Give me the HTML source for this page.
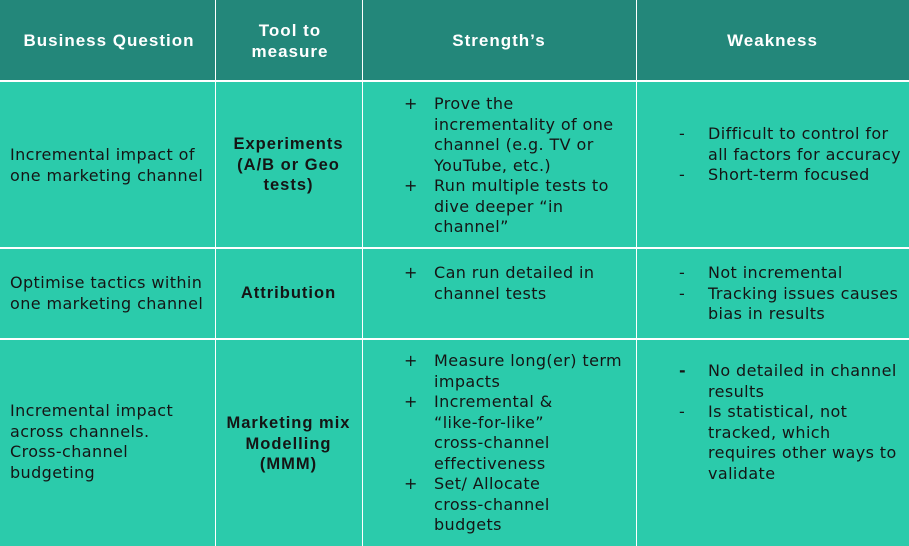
<!DOCTYPE html>
<html><head><meta charset="utf-8"><style>
body{margin:0;width:909px;height:546px;overflow:hidden;background:#2bcbab;font-family:"Liberation Sans",sans-serif;position:relative;color:#151515}
.hd{position:absolute;left:0;top:0;width:909px;height:81px;background:#23877a}
.v{position:absolute;top:0;width:1px;height:546px;background:#fff}
.h{position:absolute;left:0;width:909px;height:2px;background:#fff}
.t{position:absolute;font-family:"DejaVu Sans",sans-serif;font-size:16px;letter-spacing:0.4px;line-height:20.5px;white-space:nowrap}
.w{position:absolute;color:#fff;font-weight:bold;font-size:17px;letter-spacing:1px;line-height:21px;text-align:center}
.b{font-family:"Liberation Sans",sans-serif;font-weight:bold;text-align:center;letter-spacing:1px;font-size:16.5px}
</style></head><body>
<div class="hd"></div>
<div class="v" style="left:215px"></div><div class="v" style="left:362px"></div><div class="v" style="left:636px"></div>
<div class="h" style="top:80px"></div><div class="h" style="top:247px"></div><div class="h" style="top:338px"></div>
<div class="w" style="left:0;width:218px;top:30px">Business Question</div>
<div class="w" style="left:215px;width:150px;top:20px">Tool to<br>measure</div>
<div class="w" style="left:362px;width:274px;top:30px">Strength’s</div>
<div class="w" style="left:636px;width:273px;top:30px">Weakness</div>

<div class="t" style="left:10px;top:145px">Incremental impact of<br>one marketing channel</div>
<div class="t b" style="left:215px;width:147px;top:134px">Experiments<br>(A/B or Geo<br>tests)</div>
<div class="t" style="left:404px;top:94px">+<br><br><br><br>+</div>
<div class="t" style="left:434px;top:94px">Prove the<br>incrementality of one<br>channel (e.g. TV or<br>YouTube, etc.)<br>Run multiple tests to<br>dive deeper “in<br>channel”</div>
<div class="t" style="left:679px;top:124px">-<br>&nbsp;<br>-</div>
<div class="t" style="left:708px;top:124px">Difficult to control for<br>all factors for accuracy<br>Short-term focused</div>

<div class="t" style="left:10px;top:273px">Optimise tactics within<br>one marketing channel</div>
<div class="t b" style="left:215px;width:147px;top:283px">Attribution</div>
<div class="t" style="left:404px;top:263px">+</div>
<div class="t" style="left:434px;top:263px">Can run detailed in<br>channel tests</div>
<div class="t" style="left:679px;top:263px">-<br>-</div>
<div class="t" style="left:708px;top:263px">Not incremental<br>Tracking issues causes<br>bias in results</div>

<div class="t" style="left:10px;top:401px">Incremental impact<br>across channels.<br>Cross-channel<br>budgeting</div>
<div class="t b" style="left:215px;width:147px;top:413px">Marketing mix<br>Modelling<br>(MMM)</div>
<div class="t" style="left:404px;top:351px">+<br><br>+<br><br><br><br>+</div>
<div class="t" style="left:434px;top:351px">Measure long(er) term<br>impacts<br>Incremental &amp;<br>“like-for-like”<br>cross-channel<br>effectiveness<br>Set/ Allocate<br>cross-channel<br>budgets</div>
<div class="t" style="left:679px;top:361px"><b>-</b><br><br>-</div>
<div class="t" style="left:708px;top:361px">No detailed in channel<br>results<br>Is statistical, not<br>tracked, which<br>requires other ways to<br>validate</div>
</body></html>
